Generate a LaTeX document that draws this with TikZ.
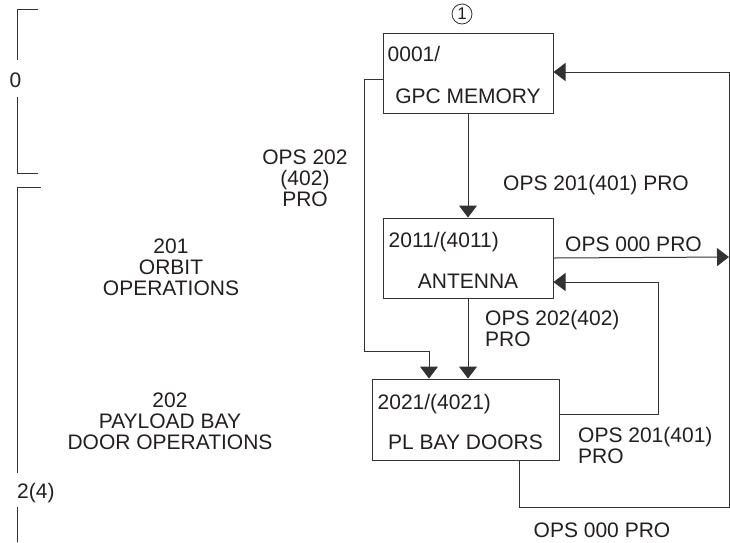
\documentclass[tikz,border=0pt]{standalone}
\usepackage{fontspec}
\setmainfont{Liberation Sans}
\usepackage{tikz}
\usetikzlibrary{arrows.meta, positioning, calc}
\definecolor{ink}{RGB}{35,31,32}
\definecolor{wire}{RGB}{50,50,50}
\tikzset{
    statebox/.style={rectangle, draw=wire, line width=1pt, fill=white, inner sep=0pt},
    flow/.style={line width=1pt, draw=wire, -{Triangle[length=12pt, width=18pt]}},
    wireline/.style={line width=1pt, draw=wire},
    idtext/.style={anchor=base west, inner sep=0pt, text=ink},
    nametext/.style={anchor=base, inner sep=0pt, text=ink},
    opslabel/.style={inner sep=0pt, text=ink, align=left},
    every node/.style={font=\fontsize{21}{21}\selectfont}
}

\begin{document}
\begin{tikzpicture}[x=1pt, y=-1pt]
    \useasboundingbox (0,0) rectangle (730,542);

    % Boxes - one per display
    \node (gpc) [statebox, minimum width=170pt, minimum height=80pt] at (468,73) {};
    \node (antenna) [statebox, minimum width=170pt, minimum height=80pt, below=104pt of gpc] {};
    \node (doors) [statebox, minimum width=187pt, minimum height=81pt, below=80pt of antenna, xshift=-2.5pt] {};

    % Box texts
    \node (gpcid) [idtext] at ($(gpc.north west)+(5,29)$) {0001/};
    \node (gpcname) [nametext] at ($(gpc.south)+(0,-10)$) {GPC MEMORY};
    \node (antid) [idtext] at ($(antenna.north west)+(6,30)$) {2011/(4011)};
    \node (antname) [nametext] at ($(antenna.south)+(0,-10)$) {ANTENNA};
    \node (doorsid) [idtext] at ($(doors.north west)+(6,31)$) {2021/(4021)};
    \node (doorsname) [nametext] at ($(doors.south)+(0,-11)$) {PL BAY DOORS};

    % Step marker
    \node (step1) [circle, draw=wire, line width=0.8pt, minimum size=20pt, inner sep=0pt, text=ink, font=\fontsize{17}{17}\selectfont] at (462,14) {1};

    % Bend points
    \coordinate (lbend) at (364,351);
    \coordinate (rtip) at (729,257);
    \coordinate (fbcorner) at (658,282);
    \coordinate (rbot) at (729,507);

    % Arrows
    \draw [flow] (gpc) -- (antenna);
    \draw [flow] (antenna.south) -- (antenna.south |- doors.north);
    \draw [flow] ([yshift=-6pt]gpc.west) -| (lbend) -| ([xshift=-36.5pt]doors.north);
    \draw [flow] (antenna.east) -- (rtip);
    \draw [flow] ([yshift=5.5pt]doors.east) -| (fbcorner) -- (antenna.east |- fbcorner);
    \draw [flow] ([xshift=53.5pt]doors.south) |- (rbot) |- ([yshift=1pt]gpc.east);

    % Transition labels (base = last line)
    \node (lbl201) [opslabel, anchor=base west] at (503,190) {OPS 201(401) PRO};
    \node (lbl000a) [opslabel, anchor=base west] at (565,251) {OPS 000 PRO};
    \node (lbl202a) [opslabel, anchor=base west] at (485,346) {OPS 202(402)\\PRO};
    \node (lbl201b) [opslabel, anchor=base west] at (578,463) {OPS 201(401)\\PRO};
    \node (lbl202b) [opslabel, align=center, anchor=base] at (305,206) {OPS 202\\(402)\\PRO};
    \node (lbl000b) [opslabel, anchor=base] at (602,537) {OPS 000 PRO};

    % Major modes
    \node (orbit) [opslabel, align=center, anchor=base] at (171,295) {201\\ORBIT\\OPERATIONS};
    \node (payload) [opslabel, align=center, anchor=base] at (170,449) {202\\PAYLOAD BAY\\DOOR OPERATIONS};

    % Phase brackets
    \node (phase0) [opslabel, anchor=base] at (15.5,87) {0};
    \node (phase2) [opslabel, anchor=base west] at (17,498) {2(4)};
    \draw [wireline] (38,9) -- (17,9) -- (17,60);
    \draw [wireline] (17,97) -- (17,173) -- (38,173);
    \draw [wireline] (41,187) -- (17,187) -- (17,473);
    \draw [wireline] (17,507) -- (17,542);
\end{tikzpicture}
\end{document}
